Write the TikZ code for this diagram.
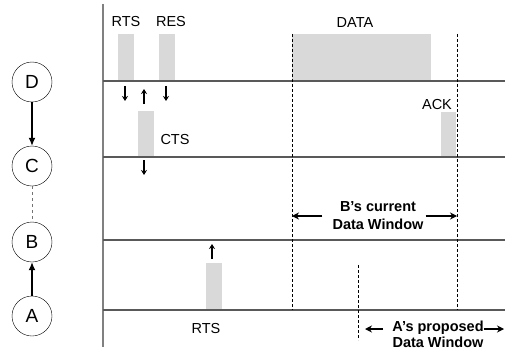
\documentclass[tikz,border=0pt]{standalone}
\usepackage{fontspec}
\setmainfont{Liberation Sans}
\usepackage{tikz}
\usetikzlibrary{arrows.meta, positioning, calc}

\tikzset{
  station/.style={draw, circle, minimum size=40pt, inner sep=0pt, font=\fontsize{19}{19}\selectfont},
  chan/.style={draw=black!65, line width=1.2pt},
  slot/.style={fill=black!15},
  lbl/.style={font=\fontsize{14.5}{16}\selectfont, inner sep=0pt},
  win/.style={font=\bfseries\fontsize{14.5}{18}\selectfont, align=center, inner sep=0pt},
  sig/.style={-{Stealth[length=5pt,width=6pt]}, line width=1.5pt},
  bound/.style={densely dashed, line width=0.7pt},
  span/.style={-{Stealth[length=7pt,width=7pt]}, line width=2pt},
}

\begin{document}
\begin{tikzpicture}[x=1pt, y=-1pt]
\useasboundingbox (0,0) rectangle (505,350);

% Stations
\node[station] (D) at (32,82) {D};
\node[station] (C) at (32,166) {C};
\node[station] (B) at (32,242) {B};
\node[station] (A) at (32,316) {A};

\draw[-{Latex[length=8pt,width=7pt]}, line width=1.2pt] (D) -- (C);
\draw[dashed, draw=black!55, line width=0.7pt] (C) -- (B);
\draw[-{Latex[length=8pt,width=7pt]}, line width=1.2pt] (A) -- (B);

% Frames on the channels
\fill[slot] (118,34) rectangle (134,81);   % RTS
\fill[slot] (159,34) rectangle (175,81);   % RES
\fill[slot] (292,34) rectangle (431,81);   % DATA
\fill[slot] (138,111) rectangle (154,157); % CTS
\fill[slot] (441,112) rectangle (456,157); % ACK
\fill[slot] (206,263) rectangle (222,310); % RTS from A

% Time axis and channel lines
\draw[draw=black!50, line width=1.8pt] (103,4) -- (103,347);
\foreach \y in {81,157,240,310}
  \draw[chan] (103,\y) -- (505,\y);

% Frame labels
\node[lbl] (rtsD) at (126,22) {RTS};
\node[lbl] (res) at (171,22) {RES};
\node[lbl] (data) at (355,23) {DATA};
\node[lbl] (cts) at (175,140) {CTS};
\node[lbl] (ack) at (437,105) {ACK};
\node[lbl] (rtsA) at (206,329) {RTS};

% Send / receive arrows
\draw[sig] (125,86) -- (125,101);
\draw[sig] (144,104) -- (144,89);
\draw[sig] (166,86) -- (166,101);
\draw[sig] (144,160) -- (144,175);
\draw[sig] (212,259) -- (212,244);

% Data window bounds
\coordinate (bstart) at (292,34);
\coordinate (bend) at (457,34);
\draw[bound] (bstart) -- (292,310);
\draw[bound] (bend) -- (457,310);
\draw[bound] (358,265) -- (358,340);

% B's window
\node[win] (bwin) at (378,216) {B’s current\\Data Window};
\draw[span] ([xshift=-10pt]bwin.west) -- (bwin.west -| bstart);
\draw[span] ([xshift=2pt]bwin.east) -- (bwin.east -| bend);

% A's window
\coordinate (aleft) at (365,329);
\coordinate (aright) at (504,329);
\node[win, font=\bfseries\fontsize{14.5}{16}\selectfont] (awin) at (438,334) {A’s proposed\\Data Window};
\draw[span] ($(awin.west |- aleft)+(-9,0)$) -- (aleft);
\draw[span] (awin.east |- aright) -- (aright);

\end{tikzpicture}
\end{document}
